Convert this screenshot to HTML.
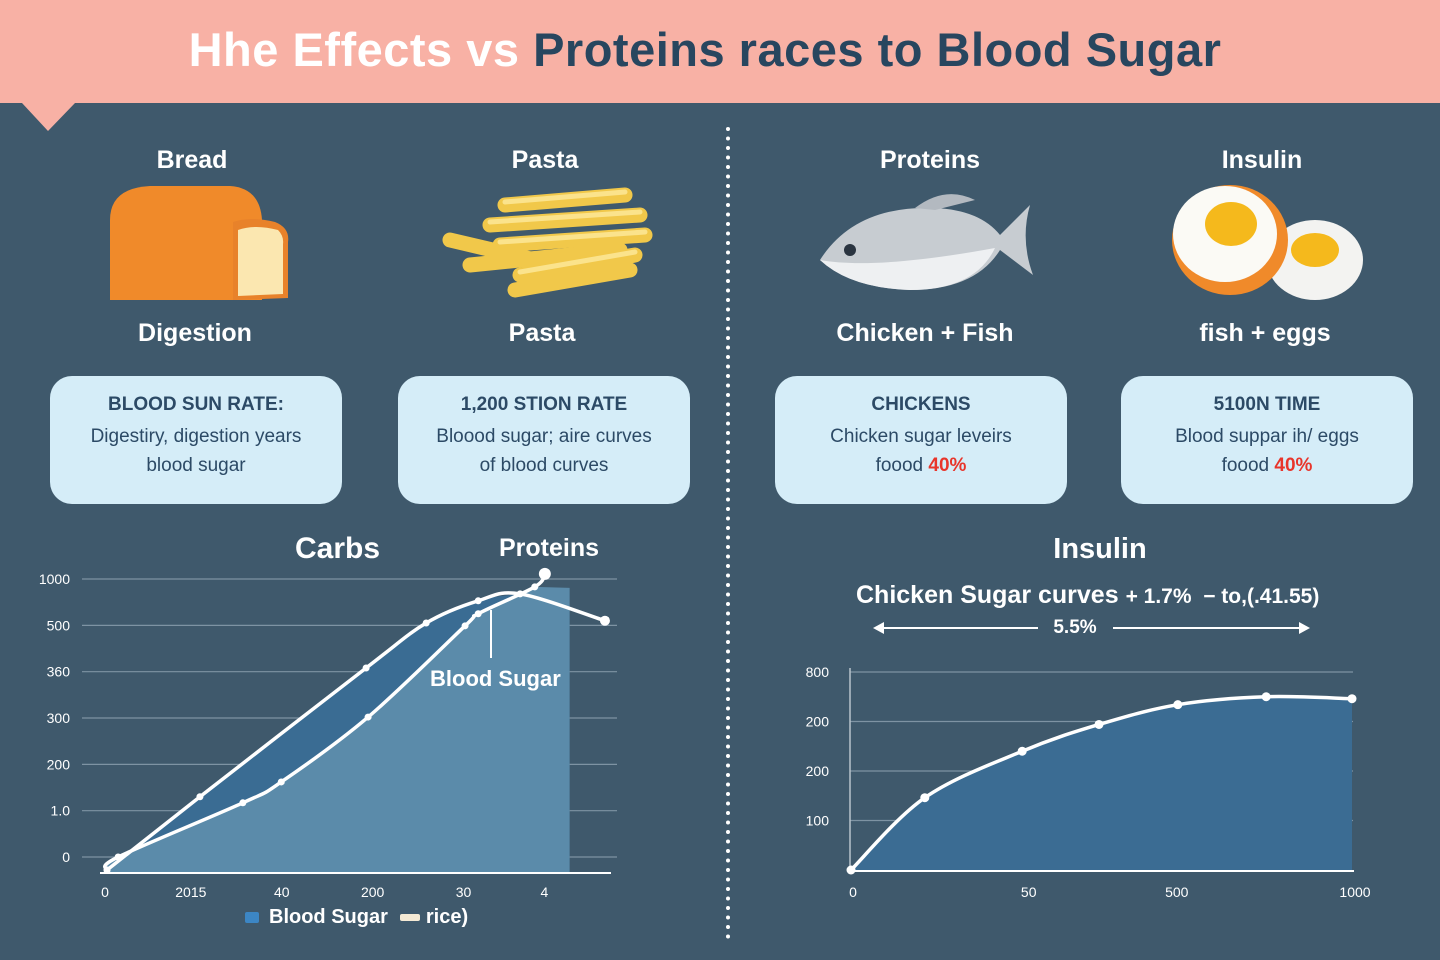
<!DOCTYPE html>
<html><head><meta charset="utf-8"><style>
*{margin:0;padding:0;box-sizing:border-box}
body{width:1440px;height:960px;background:#3f596c;font-family:"Liberation Sans",sans-serif;position:relative;overflow:hidden;color:#fff}
.abs{position:absolute}
.hdr{left:0;top:0;width:1440px;height:103px;background:#f8b1a5}
.title{left:0;top:22px;width:1410px;text-align:center;font-size:47px;font-weight:bold;letter-spacing:0.5px}
.lbl{font-size:25px;font-weight:bold;text-align:center;width:300px}
.card{background:#d5edf8;border-radius:22px;width:292px;height:128px;color:#2c4a66;text-align:center;padding-top:18px}
.card .h{font-size:19px;font-weight:bold;margin-bottom:6px}
.card .t{font-size:19px;line-height:29px}
.red{color:#e8352b;font-weight:bold}
</style></head><body>
<div class="abs hdr"></div>
<svg class="abs" style="left:0;top:100px" width="100" height="35"><polygon points="22,3 75,3 48,31" fill="#f8b1a5"/></svg>
<div class="abs title"><span style="color:#fff">Hhe Effects vs </span><span style="color:#28465f">Proteins races to Blood Sugar</span></div>

<svg class="abs" style="left:724px;top:126px" width="8" height="820"><line x1="4" y1="3" x2="4" y2="815" stroke="#fff" stroke-width="4" stroke-linecap="round" stroke-dasharray="0 9.5"/></svg>

<div class="abs lbl" style="left:42px;top:146px">Bread</div>
<div class="abs lbl" style="left:395px;top:146px">Pasta</div>
<div class="abs lbl" style="left:780px;top:146px">Proteins</div>
<div class="abs lbl" style="left:1112px;top:146px">Insulin</div>

<svg class="abs" style="left:100px;top:180px" width="200" height="130">
<path d="M10,40 Q10,8 50,6 L130,6 Q160,8 162,40 L162,120 L10,120 Z" fill="#f08a2a"/>
<path d="M133,42 Q150,36 175,42 Q190,48 188,62 L188,118 L133,120 Z" fill="#e8822a"/>
<path d="M138,50 Q155,44 178,50 Q184,56 183,64 L183,114 L138,116 Z" fill="#fbe7b0"/>
</svg>
<svg class="abs" style="left:440px;top:185px" width="220" height="120">
<g stroke="#f1c84a" stroke-width="15" stroke-linecap="round">
<line x1="65" y1="20" x2="185" y2="10"/><line x1="10" y1="55" x2="95" y2="75"/><line x1="50" y1="40" x2="200" y2="30"/>
<line x1="60" y1="60" x2="205" y2="50"/><line x1="30" y1="80" x2="180" y2="65"/><line x1="80" y1="90" x2="195" y2="70"/><line x1="75" y1="105" x2="190" y2="85"/>
</g>
<g stroke="#fbe38c" stroke-width="5" stroke-linecap="round">
<line x1="65" y1="17" x2="185" y2="7"/><line x1="50" y1="37" x2="200" y2="27"/><line x1="60" y1="57" x2="205" y2="47"/><line x1="80" y1="87" x2="195" y2="67"/>
</g></svg>
<svg class="abs" style="left:815px;top:180px" width="225" height="120">
<path d="M5,80 Q40,25 120,28 Q165,30 185,55 L215,25 Q205,60 218,95 L185,70 Q160,110 95,110 Q35,108 5,80 Z" fill="#c7ccd1"/>
<path d="M5,80 Q60,90 180,68 Q160,110 95,110 Q35,108 5,80Z" fill="#eef0f2"/>
<path d="M100,28 Q130,5 160,20 Q140,25 120,30Z" fill="#b3b9c0"/>
<circle cx="35" cy="70" r="6" fill="#2a3440"/>
</svg>
<svg class="abs" style="left:1165px;top:182px" width="205" height="125">
<ellipse cx="150" cy="78" rx="48" ry="40" fill="#f3f3f1"/><ellipse cx="150" cy="68" rx="24" ry="17" fill="#f5b91c"/>
<ellipse cx="65" cy="58" rx="58" ry="55" fill="#f08a2a"/><ellipse cx="60" cy="52" rx="52" ry="48" fill="#fbfaf5"/><ellipse cx="66" cy="42" rx="26" ry="22" fill="#f5b91c"/>
</svg>

<div class="abs lbl" style="left:45px;top:319px">Digestion</div>
<div class="abs lbl" style="left:392px;top:319px">Pasta</div>
<div class="abs lbl" style="left:770px;top:319px;width:310px">Chicken + Fish</div>
<div class="abs lbl" style="left:1115px;top:319px">fish + eggs</div>

<div class="abs card" style="left:50px;top:376px"><div class="h">BLOOD SUN RATE:</div><div class="t">Digestiry, digestion years<br>blood sugar</div></div>
<div class="abs card" style="left:398px;top:376px"><div class="h">1,200 STION RATE</div><div class="t">Bloood sugar; aire curves<br>of blood curves</div></div>
<div class="abs card" style="left:775px;top:376px"><div class="h">CHICKENS</div><div class="t">Chicken sugar leveirs<br>foood <span class="red">40%</span></div></div>
<div class="abs card" style="left:1121px;top:376px"><div class="h">5100N TIME</div><div class="t">Blood suppar ih/ eggs<br>foood <span class="red">40%</span></div></div>

<svg id="left" class="abs" style="left:0;top:0" width="720" height="960"></svg>
<svg id="right" class="abs" style="left:0;top:0" width="1440" height="960"></svg>

<script>
const leftYTicks=["1000","500","360","300","200","1.0","0"];
const leftXTicks=["0","2015","40","200","30","4"];
const leftXTickPos=[0,17,35,53,71,87];
const carbsX=[0.4,18.8,51.7,63.6,73.9,82.2,99];
const carbsY=[-0.28,1.3,4.08,5.05,5.53,5.68,5.1];
const protX=[0.4,2.6,27.3,34.9,52.1,71.3,73.9,85.1,87.1];
const protY=[-0.28,0,1.17,1.62,3.02,4.99,5.25,5.83,6.11];
const bgEndX=92, bgEndY=5.81;

const rightYTicks=["100","200","200","800"];
const rightXTicks=["0","50","500","1000"];
const rightXTickPos=[0,35,64.5,100];
const insX=[0.2,14.9,34.3,49.6,65.3,82.9,100];
const insY=[0,1.46,2.4,2.94,3.34,3.5,3.46];

const NS="http://www.w3.org/2000/svg";
function mk(p,tag,a){const e=document.createElementNS(NS,tag);for(const k in a)e.setAttribute(k,a[k]);p.appendChild(e);return e;}
function smooth(pts){let d="M"+pts[0][0]+","+pts[0][1];for(let i=0;i<pts.length-1;i++){const p0=pts[i-1]||pts[i],p1=pts[i],p2=pts[i+1],p3=pts[i+2]||p2;const c1x=p1[0]+(p2[0]-p0[0])/6,c1y=p1[1]+(p2[1]-p0[1])/6,c2x=p2[0]-(p3[0]-p1[0])/6,c2y=p2[1]-(p3[1]-p1[1])/6;d+=" C"+c1x+","+c1y+" "+c2x+","+c2y+" "+p2[0]+","+p2[1];}return d;}

// LEFT
(function(){
const s=document.getElementById('left');
const X=v=>105+v*5.05, Y=v=>857-v*46.33;
leftYTicks.forEach((t,i)=>{const v=6-i;
 const g=mk(s,'line',{x1:82,x2:617,y1:Y(v),y2:Y(v),stroke:'#7e93a3','stroke-width':1.2});
 
 const tx=mk(s,'text',{x:70,y:Y(v)+5,'text-anchor':'end','font-size':14,fill:'#fff'});tx.textContent=t;
 });
const cp=carbsX.map((x,i)=>[X(x),Y(carbsY[i])]);
const pp=protX.map((x,i)=>[X(x),Y(protY[i])]);
const base=Y(-0.35);
const dark=mk(s,'path',{d:smooth(cp.slice(0,6))+" L"+X(bgEndX)+","+Y(bgEndY)+" L"+X(bgEndX)+","+base+" L"+cp[0][0]+","+base+" Z",fill:'#3a6c93'});

const light=mk(s,'path',{d:smooth(pp.slice(0,8))+" L"+X(bgEndX)+","+Y(bgEndY)+" L"+X(bgEndX)+","+base+" L"+pp[0][0]+","+base+" Z",fill:'#5b8baa'});

const ax=mk(s,'line',{x1:100,x2:611,y1:873,y2:873,stroke:'#fff','stroke-width':2});

leftXTicks.forEach((t,i)=>{const tx=mk(s,'text',{x:X(leftXTickPos[i]),y:897,'text-anchor':'middle','font-size':14,fill:'#fff'});tx.textContent=t;
 });
const l1=mk(s,'path',{d:smooth(cp),fill:'none',stroke:'#fff','stroke-width':3.5});

const l2=mk(s,'path',{d:smooth(pp),fill:'none',stroke:'#fff','stroke-width':3.5});

cp.forEach((p,i)=>{const c=mk(s,'circle',{cx:p[0],cy:p[1],r:i==6?5:3.5,fill:'#fff'});});
pp.forEach((p,i)=>{const c=mk(s,'circle',{cx:p[0],cy:p[1],r:i==8?6:3.5,fill:'#fff'});});
const pl=mk(s,'line',{x1:491,x2:491,y1:610,y2:658,stroke:'#fff','stroke-width':2});
})();

// RIGHT
(function(){
const s=document.getElementById('right');
const X=v=>850+v*5.02, Y=v=>870-v*49.5;
rightYTicks.forEach((t,i)=>{const v=i+1;
 const g=mk(s,'line',{x1:850,x2:1353,y1:Y(v),y2:Y(v),stroke:'#7e93a3','stroke-width':1.2});
 
 const tx=mk(s,'text',{x:829,y:Y(v)+5,'text-anchor':'end','font-size':14,fill:'#fff'});tx.textContent=t;
 });
const pts=insX.map((x,i)=>[X(x),Y(insY[i])]);
const a=mk(s,'path',{d:smooth(pts)+" L"+X(100)+",870 L"+X(0)+",870 Z",fill:'#3b6c93'});

const ya=mk(s,'line',{x1:850,x2:850,y1:668,y2:872,stroke:'#b8c4cc','stroke-width':1.5});
const xa=mk(s,'line',{x1:848,x2:1354,y1:871,y2:871,stroke:'#fff','stroke-width':2});
rightXTicks.forEach((t,i)=>{const tx=mk(s,'text',{x:X(rightXTickPos[i])+3,y:897,'text-anchor':'middle','font-size':14,fill:'#fff'});tx.textContent=t;
 });
const l=mk(s,'path',{d:smooth(pts),fill:'none',stroke:'#fff','stroke-width':3.5});
pts.forEach(p=>{const c=mk(s,'circle',{cx:p[0],cy:p[1],r:4.5,fill:'#fff'});});
})();
</script>

<div class="abs" style="left:295px;top:532px;font-size:30px;font-weight:bold">Carbs</div>
<div class="abs" style="left:499px;top:534px;font-size:25px;font-weight:bold">Proteins</div>
<div class="abs" style="left:430px;top:666px;font-size:22px;font-weight:bold">Blood Sugar</div>
<div class="abs" style="left:245px;top:906px;font-size:20px;font-weight:bold;display:flex;align-items:center">
<span style="display:inline-block;width:14px;height:11px;background:#3c86c4;border-radius:2px;margin-right:10px"></span><span>Blood Sugar</span>
<span style="display:inline-block;width:20px;height:7px;background:#f5ead5;border-radius:2px;margin:0 6px 0 12px"></span><span>rice)</span></div>

<div class="abs" style="left:1000px;top:533px;width:200px;text-align:center;font-size:29px;font-weight:bold">Insulin</div>
<div class="abs" style="left:856px;top:581px;font-size:25px;font-weight:bold;white-space:nowrap">Chicken Sugar curves <span style="font-size:21px">+ 1.7% &nbsp;− to,(.41.55)</span></div>
<svg class="abs" style="left:870px;top:617px" width="445" height="22">
<line x1="8" y1="11" x2="168" y2="11" stroke="#fff" stroke-width="2"/><polygon points="3,11 14,5 14,17" fill="#fff"/>
<line x1="243" y1="11" x2="432" y2="11" stroke="#fff" stroke-width="2"/><polygon points="440,11 429,5 429,17" fill="#fff"/>
</svg>
<div class="abs" style="left:1040px;top:617px;width:70px;text-align:center;font-size:19px;font-weight:bold">5.5%</div>
</body></html>
